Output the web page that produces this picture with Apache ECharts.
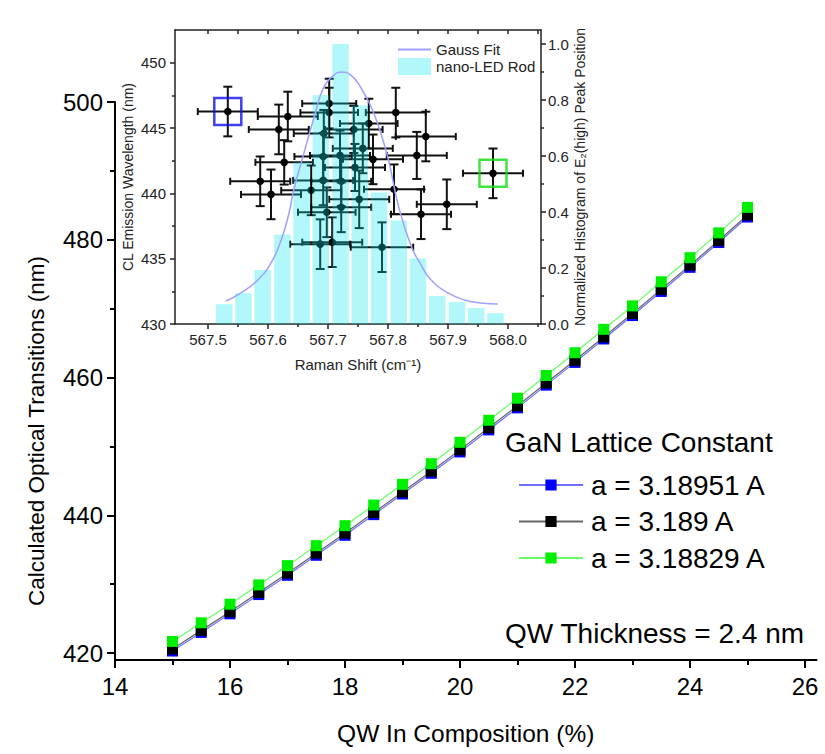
<!DOCTYPE html>
<html>
<head>
<meta charset="utf-8" />
<title></title>
<script src="https://cdn.jsdelivr.net/npm/echarts@6.0.0/dist/echarts.min.js"></script>
<style>html,body{margin:0;padding:0;background:#fff;}</style>
</head>
<body>
<div id="main" style="width: 825px; height: 754px;"></div>
<script>
// main chart: calculated transitions vs In composition
var compX = [15, 15.5, 16, 16.5, 17, 17.5, 18, 18.5, 19, 19.5, 20, 20.5, 21, 21.5, 22, 22.5, 23, 23.5, 24, 24.5, 25];
var blueVals = [420.3, 423.0, 425.7, 428.5, 431.3, 434.2, 437.1, 440.1, 443.1, 446.1, 449.2, 452.4, 455.6, 458.9, 462.2, 465.6, 469.0, 472.5, 476.0, 479.6, 483.3];
var blackVals = [420.6, 423.3, 426.0, 428.8, 431.6, 434.5, 437.4, 440.4, 443.4, 446.4, 449.5, 452.7, 455.9, 459.2, 462.5, 465.9, 469.3, 472.8, 476.3, 479.9, 483.6];
var greenVals = [421.7, 424.4, 427.1, 429.9, 432.7, 435.6, 438.5, 441.5, 444.5, 447.5, 450.6, 453.8, 457.0, 460.3, 463.6, 467.0, 470.4, 473.9, 477.4, 481.0, 484.7];
var seriesNames = ['a = 3.18951 A', 'a = 3.189 A', 'a = 3.18829 A'];
var xTicks = [14, 16, 18, 20, 22, 24, 26];
var xMinor = [15, 17, 19, 21, 23, 25];
var yTicks = [420, 440, 460, 480, 500];
var yMinor = [430, 450, 470, 490];

// inset: CL wavelength vs Raman shift, with histogram
var ramanX = [567.533, 567.633, 567.618, 567.627, 567.587, 567.605, 567.672, 567.702, 567.702, 567.693, 567.720, 567.692, 567.692, 567.722, 567.745, 567.758, 567.768, 567.813, 567.863, 567.743, 567.775, 567.848, 567.975, 567.810, 567.752, 567.722, 567.698, 567.898, 567.855, 567.687, 567.707, 567.790];
var clY = [446.26, 445.88, 444.89, 442.37, 440.92, 439.92, 440.23, 446.87, 446.18, 444.58, 442.90, 442.82, 440.99, 440.92, 441.98, 443.44, 445.34, 446.18, 444.35, 444.89, 442.60, 442.90, 441.53, 440.31, 439.54, 438.93, 438.55, 439.16, 438.40, 436.11, 436.26, 435.88];
var ramanErr = [0.050, 0.050, 0.050, 0.048, 0.050, 0.050, 0.050, 0.045, 0.048, 0.050, 0.050, 0.048, 0.050, 0.050, 0.050, 0.050, 0.048, 0.050, 0.050, 0.048, 0.050, 0.050, 0.050, 0.050, 0.050, 0.050, 0.048, 0.050, 0.050, 0.050, 0.050, 0.052];
var clErr = [1.9, 1.9, 1.9, 1.7, 1.9, 1.9, 1.9, 1.9, 1.9, 1.8, 1.9, 1.8, 1.9, 1.9, 1.8, 1.9, 1.9, 1.9, 1.9, 1.8, 1.9, 1.8, 1.9, 1.9, 2.2, 1.9, 1.9, 1.9, 1.9, 1.9, 1.9, 1.9];
var histX = [567.527, 567.559, 567.591, 567.624, 567.656, 567.688, 567.721, 567.753, 567.785, 567.818, 567.850, 567.882, 567.915, 567.947, 567.979];
var histY = [0.071, 0.11, 0.193, 0.32, 0.578, 0.818, 1.0, 0.78, 0.47, 0.37, 0.235, 0.10, 0.079, 0.057, 0.039];
var fitX = [567.530, 567.555, 567.583, 567.605, 567.622, 567.635, 567.643, 567.660, 567.677, 567.693, 567.710, 567.722, 567.738, 567.755, 567.772, 567.788, 567.802, 567.817, 567.838, 567.855, 567.872, 567.900, 567.927, 567.955, 567.983];
var fitY = [0.082, 0.111, 0.157, 0.218, 0.300, 0.396, 0.479, 0.611, 0.739, 0.846, 0.889, 0.900, 0.889, 0.843, 0.775, 0.682, 0.575, 0.425, 0.282, 0.211, 0.157, 0.111, 0.086, 0.075, 0.071];
var ramanTicks = [567.5, 567.6, 567.7, 567.8, 567.9, 568.0];
var ramanMinor = [567.55, 567.65, 567.75, 567.85, 567.95, 568.05];
var clTicks = [430, 435, 440, 445, 450];
var clMinor = [432.5, 437.5, 442.5, 447.5];
var histTicks = [0, 0.2, 0.4, 0.6, 0.8, 1.0];
var histMinor = [0.1, 0.3, 0.5, 0.7, 0.9];
var blueBox = 0;   // index of the point marked with the blue square
var greenBox = 22; // index of the point marked with the green square

var FONT = 'Liberation Sans, Arial, sans-serif';
var chart = echarts.init(document.getElementById('main'), null, {renderer: 'svg'});

function zip(a, b) {
	var out = [];
	for (var i = 0; i < a.length; i++) out.push([a[i], b[i]]);
	return out;
}

var errData = [];
for (var i = 0; i < ramanX.length; i++) {
	errData.push([ramanX[i], clY[i], ramanErr[i], clErr[i]]);
}

function renderErr(params, api) {
	var x = api.value(0), y = api.value(1), ex = api.value(2), ey = api.value(3);
	var c = api.coord([x, y]);
	var l = api.coord([x - ex, y]), r = api.coord([x + ex, y]);
	var t = api.coord([x, y + ey]), b = api.coord([x, y - ey]);
	var st = {stroke: '#111', lineWidth: 2};
	var cw = 4.5, ch = 3.5;
	return {
		type: 'group',
		children: [
			{type: 'line', shape: {x1: l[0], y1: c[1], x2: r[0], y2: c[1]}, style: st},
			{type: 'line', shape: {x1: c[0], y1: t[1], x2: c[0], y2: b[1]}, style: st},
			{type: 'line', shape: {x1: c[0] - cw, y1: t[1], x2: c[0] + cw, y2: t[1]}, style: st},
			{type: 'line', shape: {x1: c[0] - cw, y1: b[1], x2: c[0] + cw, y2: b[1]}, style: st},
			{type: 'line', shape: {x1: l[0], y1: c[1] - ch, x2: l[0], y2: c[1] + ch}, style: st},
			{type: 'line', shape: {x1: r[0], y1: c[1] - ch, x2: r[0], y2: c[1] + ch}, style: st},
			{type: 'circle', shape: {cx: c[0], cy: c[1], r: 3.8}, style: {fill: '#000'}}
		]
	};
}

function tickAxis(extra) {
	var base = {
		axisLine: {show: false},
		axisLabel: {show: false},
		splitLine: {show: false}
	};
	for (var k in extra) base[k] = extra[k];
	return base;
}

var mainLine = {lineStyle: {color: '#000', width: 2}};
var insetLine = {lineStyle: {color: '#222', width: 1.5}};

var option = {
	animation: false,
	textStyle: {fontFamily: FONT},
	title: [{
		text: 'GaN Lattice Constant',
		left: 505, top: 428, padding: 0,
		textStyle: {fontSize: 28, fontWeight: 'normal', color: '#000', fontFamily: FONT}
	}, {
		text: 'QW Thickness = 2.4 nm',
		left: 505, top: 619, padding: 0,
		textStyle: {fontSize: 28, fontWeight: 'normal', color: '#000', fontFamily: FONT}
	}],
	legend: [{
		data: seriesNames,
		orient: 'vertical',
		left: 513, top: 466,
		itemWidth: 64, itemHeight: 14, itemGap: 8.5,
		selectedMode: false,
		textStyle: {fontSize: 28, color: '#000', padding: [0, 0, 0, 3]}
	}, {
		data: [{name: 'Gauss Fit', itemStyle: {opacity: 0}}, {name: 'nano-LED Rod', icon: 'rect'}],
		orient: 'vertical',
		left: 392, top: 37,
		itemWidth: 33, itemHeight: 17, itemGap: 1,
		selectedMode: false,
		textStyle: {fontSize: 15, color: '#222'}
	}],
	grid: [
		{left: 115, top: 102, width: 701.5, height: 558},
		{left: 175, top: 30, width: 366, height: 294}
	],
	xAxis: [{
		type: 'value', gridIndex: 0, min: 14, max: 26.2,
		name: 'QW In Composition (%)', nameLocation: 'middle', nameGap: 61,
		nameTextStyle: {fontSize: 24.5, color: '#000'},
		axisLine: mainLine,
		axisTick: {customValues: xTicks, length: 8, lineStyle: {width: 2, color: '#000'}},
		axisLabel: {customValues: xTicks, fontSize: 24, color: '#000', margin: 14},
		splitLine: {show: false}
	}, tickAxis({
		type: 'value', gridIndex: 0, min: 14, max: 26.2, position: 'bottom',
		axisTick: {customValues: xMinor, length: 5, lineStyle: {width: 2, color: '#000'}}
	}), {
		type: 'value', gridIndex: 1, min: 567.445, max: 568.055,
		name: 'Raman Shift (cm\u207B\u00B9)', nameLocation: 'middle', nameGap: 33,
		nameTextStyle: {fontSize: 15, color: '#222'},
		axisLine: insetLine,
		axisTick: {customValues: ramanTicks, length: 5, lineStyle: {width: 1.5, color: '#222'}},
		axisLabel: {customValues: ramanTicks, fontSize: 15, color: '#222', margin: 8,
			formatter: function(v) { return v.toFixed(1); }},
		splitLine: {show: false}
	}, tickAxis({
		type: 'value', gridIndex: 1, min: 567.445, max: 568.055, position: 'bottom',
		axisTick: {customValues: ramanMinor, length: 3, lineStyle: {width: 1.5, color: '#222'}}
	}), {
		type: 'value', gridIndex: 1, min: 567.445, max: 568.055, position: 'top',
		axisLine: insetLine,
		axisTick: {customValues: ramanTicks.concat(ramanMinor), inside: true, length: 4, lineStyle: {width: 1.5, color: '#222'}},
		axisLabel: {show: false},
		splitLine: {show: false}
	}],
	yAxis: [{
		type: 'value', gridIndex: 0, min: 419, max: 500,
		name: 'Calculated Optical Transitions (nm)', nameLocation: 'middle', nameGap: 67,
		nameTextStyle: {fontSize: 22.5, color: '#000', padding: [0, 100, 0, 0]},
		axisLine: mainLine,
		axisTick: {customValues: yTicks, length: 8, lineStyle: {width: 2, color: '#000'}},
		axisLabel: {customValues: yTicks, fontSize: 24, color: '#000', margin: 12},
		splitLine: {show: false}
	}, tickAxis({
		type: 'value', gridIndex: 0, min: 419, max: 500, position: 'left',
		axisTick: {customValues: yMinor, length: 5, lineStyle: {width: 2, color: '#000'}}
	}), {
		type: 'value', gridIndex: 1, min: 430, max: 452.5, position: 'left',
		name: 'CL Emission Wavelength (nm)', nameLocation: 'middle', nameGap: 40,
		nameTextStyle: {fontSize: 14, color: '#222'},
		axisLine: insetLine,
		axisTick: {customValues: clTicks, length: 5, lineStyle: {width: 1.5, color: '#222'}},
		axisLabel: {customValues: clTicks, fontSize: 15, color: '#222', margin: 9},
		splitLine: {show: false}
	}, tickAxis({
		type: 'value', gridIndex: 1, min: 430, max: 452.5, position: 'left',
		axisTick: {customValues: clMinor, length: 3, lineStyle: {width: 1.5, color: '#222'}}
	}), {
		type: 'value', gridIndex: 1, min: 0, max: 1.05, position: 'right',
		name: 'Normalized Histogram of E\u2082(high) Peak Position', nameLocation: 'middle', nameGap: 30,
		nameRotate: 90,
		nameTextStyle: {fontSize: 14, color: '#222'},
		axisLine: insetLine,
		axisTick: {customValues: histTicks, length: 5, lineStyle: {width: 1.5, color: '#222'}},
		axisLabel: {customValues: histTicks, fontSize: 15, color: '#222', margin: 7,
			formatter: function(v) { return v.toFixed(1); }},
		splitLine: {show: false}
	}, tickAxis({
		type: 'value', gridIndex: 1, min: 0, max: 1.05, position: 'right',
		axisTick: {customValues: histMinor, length: 3, lineStyle: {width: 1.5, color: '#222'}}
	})],
	series: [{
		name: seriesNames[0], type: 'line', xAxisIndex: 0, yAxisIndex: 0,
		data: zip(compX, blueVals),
		symbol: 'rect', symbolSize: 11,
		itemStyle: {color: '#0000ff'},
		lineStyle: {color: '#7070ff', width: 1.2}
	}, {
		name: seriesNames[1], type: 'line', xAxisIndex: 0, yAxisIndex: 0,
		data: zip(compX, blackVals),
		symbol: 'rect', symbolSize: 11,
		itemStyle: {color: '#000'},
		lineStyle: {color: '#666', width: 1.2}
	}, {
		name: seriesNames[2], type: 'line', xAxisIndex: 0, yAxisIndex: 0,
		data: zip(compX, greenVals),
		symbol: 'rect', symbolSize: 11,
		itemStyle: {color: '#00ee00'},
		lineStyle: {color: '#66ff66', width: 1.2}
	}, {
		name: 'CL points', type: 'custom', xAxisIndex: 2, yAxisIndex: 2,
		data: errData, renderItem: renderErr, z: 2,
		encode: {x: 0, y: 1}
	}, {
		name: 'nano-LED Rod', type: 'bar', xAxisIndex: 2, yAxisIndex: 4,
		data: zip(histX, histY), barWidth: 16.5, z: 3,
		itemStyle: {color: 'rgba(0, 232, 238, 0.3)'}
	}, {
		name: 'Gauss Fit', type: 'line', xAxisIndex: 2, yAxisIndex: 4,
		data: zip(fitX, fitY), symbol: 'none', smooth: true, z: 4,
		lineStyle: {color: '#a0a0ff', width: 1.5},
		itemStyle: {color: '#a0a0ff'}
	}, {
		name: 'blue mark', type: 'scatter', xAxisIndex: 2, yAxisIndex: 2,
		data: [[ramanX[blueBox], clY[blueBox]]], symbol: 'rect', symbolSize: 27, z: 5,
		itemStyle: {color: 'transparent', borderColor: '#1010ee', borderWidth: 2.5}
	}, {
		name: 'green mark', type: 'scatter', xAxisIndex: 2, yAxisIndex: 2,
		data: [[ramanX[greenBox], clY[greenBox]]], symbol: 'rect', symbolSize: 27, z: 5,
		itemStyle: {color: 'transparent', borderColor: '#10dd10', borderWidth: 2.5}
	}]
};
chart.setOption(option);
</script>
</body>
</html>
